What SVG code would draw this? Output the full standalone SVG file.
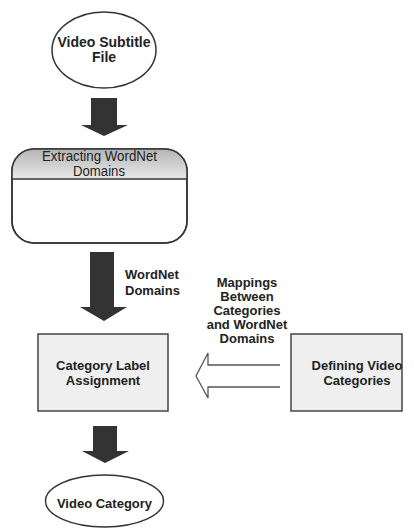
<svg xmlns="http://www.w3.org/2000/svg" width="414" height="529" viewBox="0 0 414 529">
  <defs>
    <linearGradient id="capShade" x1="0" y1="0" x2="0" y2="1">
      <stop offset="0" stop-color="#b4b4b4"/>
      <stop offset="0.45" stop-color="#ffffff"/>
    </linearGradient>
    <clipPath id="capClip">
      <rect x="12" y="149" width="175" height="30"/>
    </clipPath>
  </defs>
  <style>
    .outline { fill: #ffffff; stroke: #333333; stroke-width: 1.5; }
    .box { fill: #efefef; stroke: #444444; stroke-width: 1.5; }
    .flow { fill: #333333; stroke: none; }
    .hollow { fill: none; stroke: #555555; stroke-width: 1.3; stroke-linejoin: miter; }
    .lbl { font-family: "Liberation Sans", Arial, sans-serif; font-weight: bold; font-size: 13px; fill: #222222; text-anchor: middle; }
    .plain { font-family: "Liberation Sans", Arial, sans-serif; font-size: 14px; fill: #222222; }
  </style>

  <!-- Source file -->
  <g id="video-subtitle-file">
    <ellipse class="outline" cx="104" cy="50" rx="52" ry="38"/>
    <text class="lbl" style="font-size:14px" x="104" y="47">Video Subtitle</text>
    <text class="lbl" style="font-size:14px" x="104" y="62">File</text>
  </g>

  <!-- Domain extraction step -->
  <g id="extracting-wordnet-domains">
    <rect class="outline" x="12" y="149" width="175" height="94" rx="22" ry="22"/>
    <rect x="12" y="149" width="175" height="94" rx="22" ry="22" fill="url(#capShade)" clip-path="url(#capClip)" stroke="none"/>
    <rect x="12" y="149" width="175" height="94" rx="22" ry="22" fill="none" stroke="#333333" stroke-width="1.5"/>
    <line x1="12" y1="179" x2="187" y2="179" stroke="#333333" stroke-width="1.5"/>
    <text class="plain" x="42" y="160.5" textLength="115" lengthAdjust="spacingAndGlyphs">Extracting WordNet</text>
    <text class="plain" x="73" y="175.5" textLength="52" lengthAdjust="spacingAndGlyphs">Domains</text>
  </g>

  <!-- Label assignment -->
  <g id="category-label-assignment">
    <rect class="box" x="38" y="334" width="130" height="77"/>
    <text class="lbl" x="103" y="370">Category Label</text>
    <text class="lbl" x="103" y="385">Assignment</text>
  </g>

  <!-- Category definitions -->
  <g id="defining-video-categories">
    <rect class="box" x="291" y="334" width="111" height="77"/>
    <text class="lbl" x="357" y="370">Defining Video</text>
    <text class="lbl" x="357" y="385">Categories</text>
  </g>

  <!-- Result -->
  <g id="video-category">
    <ellipse class="outline" cx="104.5" cy="501" rx="59" ry="26"/>
    <text class="lbl" x="104.5" y="508">Video Category</text>
  </g>

  <!-- Connectors -->
  <g id="connectors">
    <polygon class="flow" points="91,98 117,98 117,125 128,125 104,136 81,125 91,125"/>
    <polygon class="flow" points="90,252 114,252 114,307 127,307 104,321 80,307 90,307"/>
    <polygon class="flow" points="93,426 117,426 117,451 129,451 105,463 82,451 93,451"/>
    <path class="hollow" d="M280,365 H208 V353 L196,376 L208,398 V387 H280"/>
    <text class="lbl" x="125" y="279" style="text-anchor:start">WordNet</text>
    <text class="lbl" x="125" y="295" style="text-anchor:start">Domains</text>
    <text class="lbl" x="247" y="287">Mappings</text>
    <text class="lbl" x="247" y="301">Between</text>
    <text class="lbl" x="247" y="315">Categories</text>
    <text class="lbl" x="247" y="329">and WordNet</text>
    <text class="lbl" x="247" y="343">Domains</text>
  </g>
</svg>
